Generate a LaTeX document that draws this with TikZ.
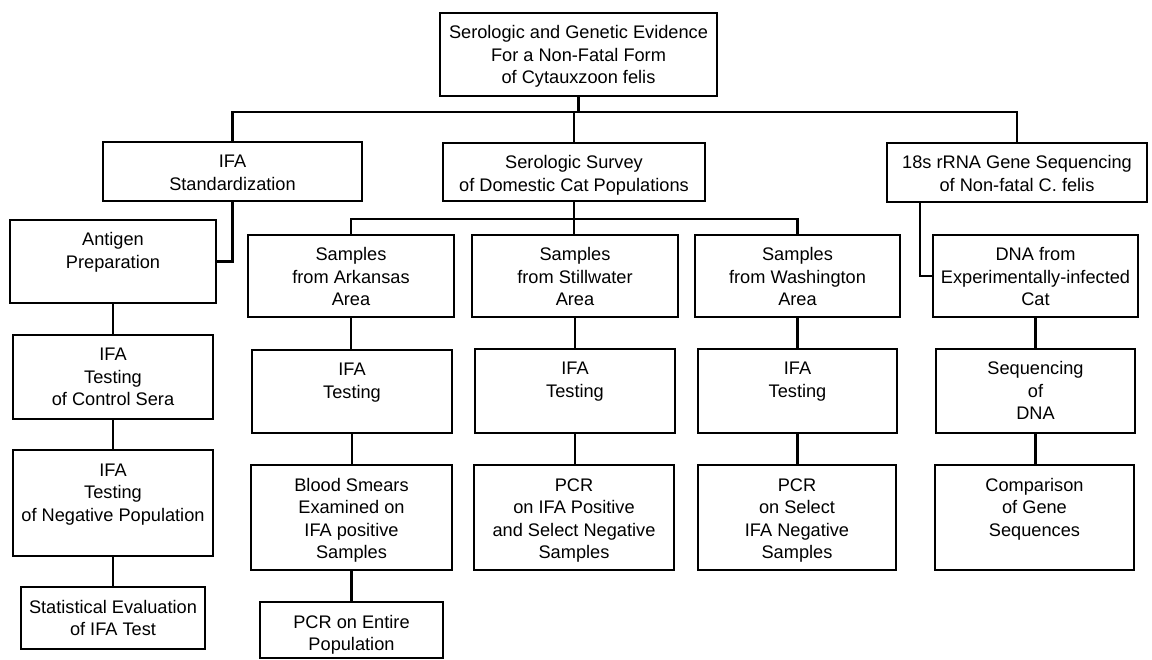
\documentclass[tikz,border=0pt]{standalone}
\usepackage{fontspec}
\setmainfont{Liberation Sans}
\tikzset{
  box/.style={draw=black, line width=2.8pt, inner sep=0pt, outer sep=0pt,
    font=\fontsize{18.2pt}{22.5pt}\selectfont},
  conn/.style={draw=black, line width=2.2pt}
}
\newcommand\flowbox[6]{%
  \node[box] (#1) at ({(#2+#4)/2},{(#3+#5)/2})
    {\parbox[c][\dimexpr #5pt-#3pt\relax][t]{\dimexpr #4pt-#2pt\relax}{\centering\rule{0pt}{26pt}#6\par}};}
\begin{document}
\begin{tikzpicture}[x=1pt,y=-1pt]
\fill[white] (0,0) rectangle (1152,660);
\useasboundingbox (0,0) rectangle (1152,660);

% level 0 and 1
\flowbox{top}{440}{13}{717}{96}{Serologic and Genetic Evidence\\For a Non-Fatal Form\\of Cytauxzoon felis}
\flowbox{ifastd}{103}{142}{362}{201}{IFA\\Standardization}
\flowbox{sero}{443}{143}{705}{201}{Serologic Survey\\of Domestic Cat Populations}
\flowbox{rrna}{887}{143}{1147}{202}{18s rRNA Gene Sequencing\\of Non-fatal C. felis}

% left column
\flowbox{antigen}{10}{220}{216}{303}{Antigen\\Preparation}
\flowbox{control}{13}{335}{213}{419}{IFA\\Testing\\of Control Sera}
\flowbox{neg}{13}{450}{213}{556}{IFA\\Testing\\of Negative Population}
\flowbox{stat}{21}{587}{205}{649}{Statistical Evaluation\\of IFA Test}

% Arkansas column
\flowbox{ark}{248}{235}{454}{317}{Samples\\from Arkansas\\Area}
\flowbox{arkifa}{252}{350}{452}{433}{IFA\\Testing}
\flowbox{blood}{251}{465}{452}{570}{Blood Smears\\Examined on\\IFA positive\\Samples}
\flowbox{pcrall}{260}{602}{443}{658}{PCR on Entire\\Population}

% Stillwater column
\flowbox{still}{472}{235}{678}{317}{Samples\\from Stillwater\\Area}
\flowbox{stillifa}{475}{349}{675}{433}{IFA\\Testing}
\flowbox{stillpcr}{474}{465}{674}{570}{PCR\\on IFA Positive\\and Select Negative\\Samples}

% Washington column
\flowbox{wash}{695}{235}{900}{317}{Samples\\from Washington\\Area}
\flowbox{washifa}{698}{349}{897}{433}{IFA\\Testing}
\flowbox{washpcr}{698}{465}{896}{570}{PCR\\on Select\\IFA Negative\\Samples}

% DNA column
\flowbox{dna}{933}{235}{1138}{317}{DNA from\\Experimentally-infected\\Cat}
\flowbox{seq}{936}{349}{1135}{433}{Sequencing\\of\\DNA}
\flowbox{comp}{935}{465}{1134}{570}{Comparison\\of Gene\\Sequences}

% connectors
\coordinate (bar) at (0,112);
\coordinate (sub) at (0,219);
\draw[conn] (top.south) -- (top.south |- bar);
\draw[conn] (ifastd.north) -- (ifastd.north |- bar) -- (rrna.north |- bar) -- (rrna.north);
\draw[conn] (sero.north) -- (sero.north |- bar);
\draw[conn] (ark.north) -- (ark.north |- sub) -- (wash.north |- sub) -- (wash.north);
\draw[conn] (sero.south) -- (sero.south |- still.north);
\draw[conn] (ifastd.south) |- (antigen.east);
\draw[conn] ([xshift=33pt]rrna.south west) |- (dna.west);

\foreach \a/\b in {antigen/control, control/neg, neg/stat,
                   ark/arkifa, arkifa/blood, blood/pcrall,
                   still/stillifa, stillifa/stillpcr,
                   wash/washifa, washifa/washpcr,
                   dna/seq, seq/comp}
  \draw[conn] (\a.south) -- (\a.south |- \b.north);
\end{tikzpicture}
\end{document}
